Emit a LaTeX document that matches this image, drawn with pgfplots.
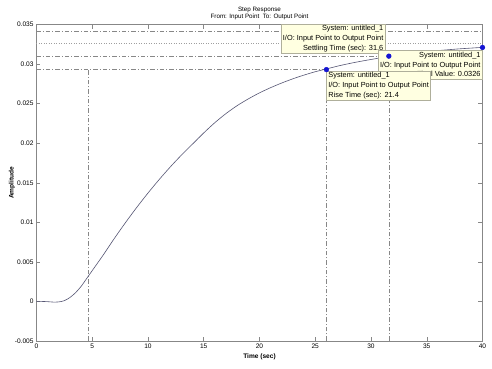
\documentclass[border=0pt]{standalone}
\usepackage{pgfplots}
\pgfplotsset{compat=1.18}
\usepackage{fontspec}
\setmainfont{Liberation Sans}
\definecolor{curve}{RGB}{85,85,115}
\definecolor{tipfill}{RGB}{255,255,225}
\definecolor{tipdraw}{RGB}{175,175,155}
\definecolor{mk}{RGB}{20,20,210}
\definecolor{ref}{RGB}{135,135,135}
\begin{document}
\begin{tikzpicture}
\begin{axis}[
  scale only axis, width=446bp, height=316.5bp,
  xmin=0, xmax=40, ymin=-0.005, ymax=0.035,
  xtick={0,5,...,40},
  ytick={-0.005,0,0.005,0.01,0.015,0.02,0.025,0.03,0.035},
  scaled y ticks=false,
  yticklabel style={/pgf/number format/fixed,/pgf/number format/precision=3},
  /pgf/number format/assume math mode=true,
  tick label style={font=\fontsize{6.6}{7}\selectfont, text=black},
  xticklabel style={yshift=1bp},
  yticklabel style={xshift=0.5bp},
  axis line style={ref, line width=0.6bp},
  major tick style={ref, line width=0.5bp},
  major tick length=4bp,
  xlabel={Time (sec)},
  xlabel style={at={(rel axis cs:0.5,0)}, anchor=base, yshift=-17.5bp, font=\fontsize{6.6}{7}\selectfont\bfseries},
  clip=false,
]
% reference lines
\addplot[ref, line width=0.5bp, dash pattern=on 4.5bp off 2bp on 1bp off 2bp] coordinates {(0,0.0342) (40,0.0342)};
\addplot[ref!80, line width=0.5bp, dotted] coordinates {(0,0.0326) (40,0.0326)};
\addplot[ref, line width=0.5bp, dash pattern=on 4.5bp off 2bp on 1bp off 2bp] coordinates {(0,0.0310) (40,0.0310)};
\addplot[ref, line width=0.5bp, dash pattern=on 4.5bp off 2bp on 1bp off 2bp] coordinates {(0,0.0293) (26,0.0293)};
\addplot[ref, line width=0.5bp, dash pattern=on 4.5bp off 2bp on 1bp off 2bp] coordinates {(4.6,-0.005) (4.6,0.0293)};
\addplot[ref, line width=0.5bp, dash pattern=on 4.5bp off 2bp on 1bp off 2bp] coordinates {(26,-0.005) (26,0.0293)};
\addplot[ref, line width=0.5bp, dash pattern=on 4.5bp off 2bp on 1bp off 2bp] coordinates {(31.6,-0.005) (31.6,0.0310)};
% step response
\addplot[curve, line width=0.6bp, smooth, tension=0.5] table {
t y
0 0
0.5 0
1.0 -0.00003
1.5 -0.00008
2.0 -0.00006
2.5 0.0001
3.0 0.0005
3.5 0.0011
4.0 0.0019
4.5 0.0029
5.0 0.0039
5.5 0.0049
6.0 0.0059
7.0 0.0080
8.0 0.0100
9.0 0.0119
10.0 0.0137
11.0 0.0154
12.0 0.0170
13.0 0.0185
14.0 0.0199
15.0 0.0213
16.0 0.0226
17.0 0.02375
18.0 0.02475
19.0 0.0256
20.0 0.02636
21.0 0.02702
22.0 0.02761
23.0 0.02814
24.0 0.02861
25.0 0.02903
26.0 0.02938
27.0 0.02974
28.0 0.03005
29.0 0.03033
30.0 0.03058
31.0 0.03082
32.0 0.03104
33.0 0.03123
34.0 0.03141
35.0 0.03156
36.0 0.03170
37.0 0.03182
38.0 0.03193
39.0 0.03202
40.0 0.03211
};
% data tips
\node[fill=tipfill, draw=tipdraw, line width=0.4bp, anchor=south east, align=right, inner sep=1.8bp,
  font=\fontsize{7.4}{9.6}\selectfont] at (axis cs:31.6,0.0310) [xshift=-3.5bp, yshift=2.5bp]
  {System: untitled\_1\\I/O: Input Point to Output Point\\Settling Time (sec): 31.6};
\node[fill=tipfill, draw=tipdraw, line width=0.4bp, anchor=north east, align=right, inner sep=1.8bp,
  font=\fontsize{7.4}{9.6}\selectfont] at (axis cs:40,0.0321) [yshift=-3bp]
  {System: untitled\_1\\I/O: Input Point to Output Point\\Final Value: 0.0326};
\node[fill=tipfill, draw=tipdraw, line width=0.4bp, anchor=north west, align=left, inner sep=1.8bp,
  font=\fontsize{7.4}{9.6}\selectfont] at (axis cs:26,0.0293) [yshift=-1bp]
  {System: untitled\_1\\I/O: Input Point to Output Point\\Rise Time (sec): 21.4};
% characteristic points
\addplot[only marks, mark=*, mark size=2.4bp, mk] coordinates {(26,0.0293) (31.6,0.0310) (40,0.0321)};
\end{axis}
\node[anchor=base, font=\fontsize{6.3}{7}\selectfont] at ([yshift=13.3bp]current axis.north) {Step Response};
\node[anchor=base, font=\fontsize{6.3}{7}\selectfont] at ([yshift=6.3bp]current axis.north) {From: Input Point\ \ To: Output Point};
\node[rotate=90, anchor=center, font=\fontsize{6.6}{7}\selectfont\bfseries] at ([xshift=-24.5bp]current axis.west) {Amplitude};
\pgfresetboundingbox
\path[use as bounding box] ([xshift=-36.5bp,yshift=-28bp]current axis.south west) rectangle ([xshift=9.5bp,yshift=24.5bp]current axis.north east);
\end{tikzpicture}
\end{document}
